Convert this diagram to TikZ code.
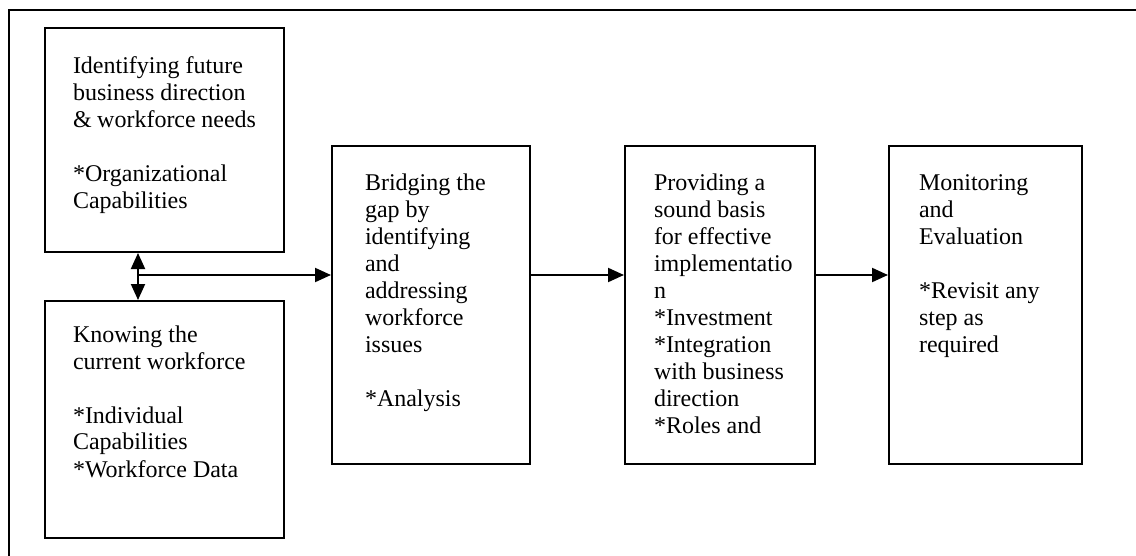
\documentclass[tikz,border=0pt]{standalone}
\usepackage{fontspec}
\setmainfont{Liberation Serif}
\usetikzlibrary{arrows.meta}
\begin{document}
\begin{tikzpicture}[x=0.5pt, y=-0.5pt, line width=1pt, >={Triangle[length=8pt,width=7pt]},
  stage/.style={draw, anchor=north west, inner ysep=0pt, align=flush left, text height=22.5pt,
    font=\fontsize{12pt}{13.5pt}\selectfont}]
 \useasboundingbox (0,0) rectangle (1136,556);
 \draw (9,556)--(9,10)--(1136,10);
 \node[stage, inner xsep=14pt, text width=91.5pt, text height=23pt, text depth=89pt] (dir) at (44,27)
  {Identifying future\\ business direction\\ \& workforce needs\\[13.5pt] *Organizational\\ Capabilities};
 \node[stage, inner xsep=14pt, text width=91.5pt, text height=20.5pt, text depth=98pt] (cur) at (44,300)
  {Knowing the\\ current workforce\\[13.5pt] *Individual\\ Capabilities\\ {*}Workforce Data};
 \node[stage, inner xsep=16.5pt, text width=66pt, text depth=136.5pt] (gap) at (331,145)
  {Bridging the\\ gap by\\ identifying\\ and\\ addressing\\ workforce\\ issues\\[13.5pt] *Analysis};
 \node[stage, inner xsep=14.5pt, text width=66pt, text depth=136.5pt] (basis) at (624,145)
  {Providing a\\ sound basis\\ for effective\\ implementatio\\ n\\ {*}Investment\\ {*}Integration\\ with business\\ direction\\ {*}Roles and};
 \node[stage, inner xsep=15pt, text width=66.5pt, text depth=136.5pt] (eval) at (888,145)
  {Monitoring\\ and\\ Evaluation\\[13.5pt] *Revisit any\\ step as\\ required};
 \coordinate (jn) at (138,275);
 \draw[<->] (jn |- dir.south)--(jn |- cur.north);
 \draw[->] (jn)--(jn -| gap.west);
 \draw[->] (gap.east |- jn)--(basis.west |- jn);
 \draw[->] (basis.east |- jn)--(eval.west |- jn);
\end{tikzpicture}
\end{document}
